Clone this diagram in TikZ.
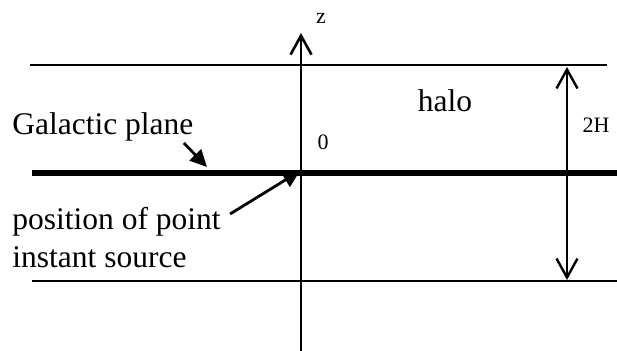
\documentclass[tikz,border=0pt]{standalone}
\usepackage{fontspec}
\setmainfont{Liberation Serif}
\usepackage{tikz}
\usetikzlibrary{arrows.meta}

\begin{document}
\begin{tikzpicture}[x=0.5pt,y=-0.5pt,
    biglbl/.style={inner sep=0pt,font=\fontsize{15.75}{19}\selectfont},
    smalllbl/.style={inner sep=0pt,font=\fontsize{11}{13}\selectfont},
    thinline/.style={line width=1pt},
    barb/.style={line width=1.2pt,-{Straight Barb[length=9.5pt,width=10.5pt]}},
    pointer/.style={line width=1.4pt,-{Triangle[length=8.5pt,width=8pt]}}]
        \useasboundingbox (0,0) rectangle (617,351);
        % layers
        \draw[thinline] (30,65) -- (607,65);
        \draw[line width=3pt] (32,173) -- (617,173);
        \draw[thinline] (32,281) -- (617,281);
        % z axis
        \coordinate (bot) at (301,351);
        \coordinate (top) at (301,33);
        \coordinate (o) at (300,171);
        \draw[barb,line width=1.3pt] (bot) -- (top);
        \node[smalllbl] (z) at (321,18) {z};
        \node[smalllbl] (zero) at (323,142) {0};
        % thickness of halo
        \coordinate (hup) at (567,67);
        \coordinate (hdn) at (567,280);
        \draw[barb,{Straight Barb[length=9.5pt,width=10.5pt]}-{Straight Barb[length=9.5pt,width=10.5pt]}] (hup) -- (hdn);
        \node[smalllbl] (h) at (596,125) {2H};
        \node[biglbl] (halo) at (445,101) {halo};
        % labels on the left
        \node[biglbl,anchor=base west] (gal) at (12,135) {Galactic plane};
        \coordinate (gp) at (207,167);
        \draw[pointer] ([shift={(-10,8)}]gal.base east) -- (gp);
        \node[biglbl,anchor=base west] (pos) at (12,230) {position of point};
        \node[biglbl,anchor=base west] (inst) at (12,268) {instant source};
        \draw[pointer] ([shift={(9,-16)}]pos.base east) -- (o);
      \end{tikzpicture}
\end{document}
